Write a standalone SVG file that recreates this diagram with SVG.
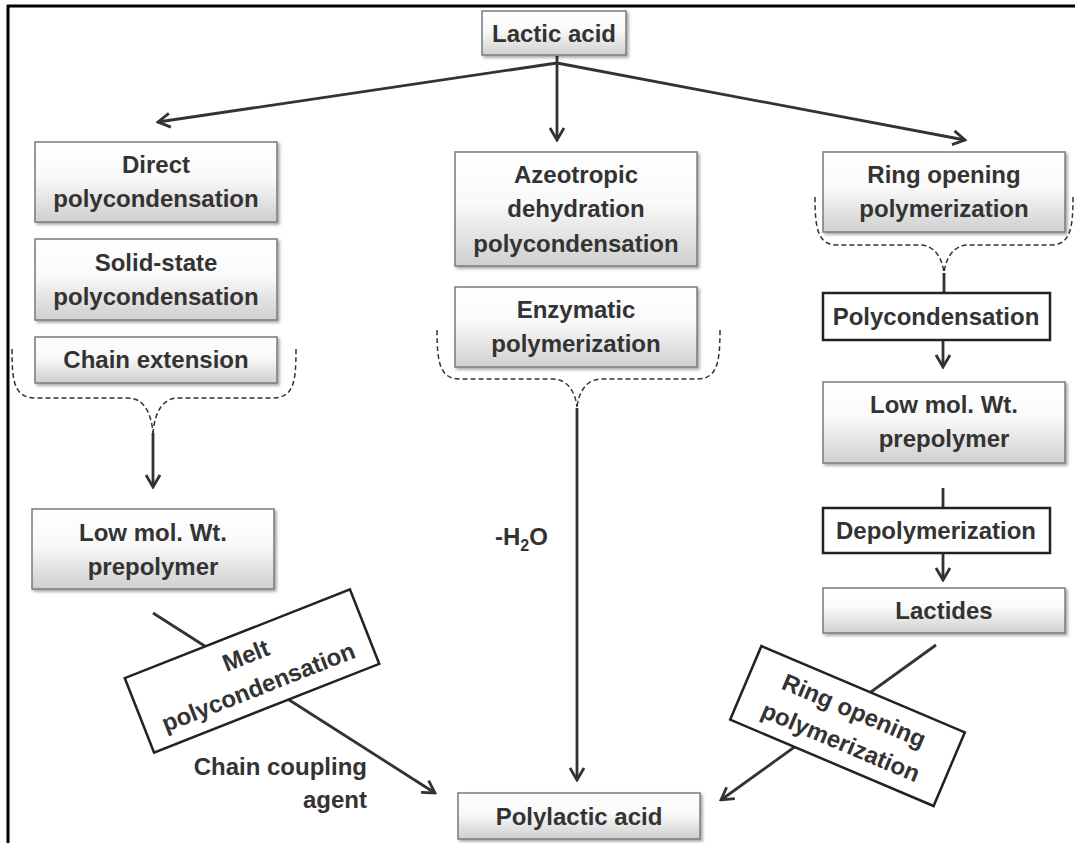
<svg xmlns="http://www.w3.org/2000/svg" width="1075" height="843" viewBox="0 0 1075 843">
<defs>
<linearGradient id="g" x1="0" y1="0" x2="0" y2="1">
<stop offset="0" stop-color="#ffffff"/>
<stop offset="0.45" stop-color="#f9f9f9"/>
<stop offset="1" stop-color="#cfcfcf"/>
</linearGradient>
<filter id="sh" x="-10%" y="-10%" width="130%" height="140%">
<feDropShadow dx="2" dy="2" stdDeviation="1.5" flood-color="#000" flood-opacity="0.35"/>
</filter>
<marker id="ah" viewBox="0 0 18 18" refX="16" refY="9" markerWidth="18" markerHeight="18" markerUnits="userSpaceOnUse" orient="auto">
<path d="M4,2 L16,9 L4,16" fill="none" stroke="#333" stroke-width="2.8" stroke-linejoin="miter"/>
</marker>
<style>
.box{fill:url(#g);stroke:#7a7a7a;stroke-width:1.5;filter:url(#sh)}
.wbox{fill:#fff;stroke:#222;stroke-width:2.5}
.t{font-family:"Liberation Sans",Arial,sans-serif;font-weight:bold;font-size:24px;fill:#333;text-anchor:middle}
.te{font-family:"Liberation Sans",Arial,sans-serif;font-weight:bold;font-size:24px;fill:#333;text-anchor:end}
.ts{font-family:"Liberation Sans",Arial,sans-serif;font-weight:bold;font-size:24px;fill:#333}
.c{stroke:#333;stroke-width:2.8;fill:none}
.ca{stroke:#333;stroke-width:2.8;fill:none;marker-end:url(#ah)}
.d{stroke:#333;stroke-width:1.5;fill:none;stroke-dasharray:5 3}
</style>
</defs>
<rect x="0" y="0" width="1075" height="843" fill="#fff"/>
<g id="frame">
<line x1="7" y1="6" x2="1075" y2="6" stroke="#000" stroke-width="3"/>
<line x1="8" y1="5" x2="8" y2="843" stroke="#000" stroke-width="3"/>
</g>
<g id="connectors">
<line class="ca" x1="557" y1="63" x2="158" y2="122"/>
<line class="ca" x1="557" y1="56" x2="557" y2="140"/>
<line class="ca" x1="557" y1="63" x2="965" y2="140"/>
<path class="d" d="M12,349 C12,382 14,398 36,398 L128,398 C142,398 151,410 153,433"/>
<path class="d" d="M296,349 C296,382 294,398 272,398 L178,398 C164,398 155,410 153,433"/>
<line class="ca" x1="153" y1="433" x2="153" y2="487"/>
<path class="d" d="M437,330 C437,363 440,379 460,379 L553,379 C566,379 575,390 577,407"/>
<path class="d" d="M720,330 C720,363 717,379 697,379 L601,379 C588,379 579,390 577,407"/>
<line class="ca" x1="577" y1="408" x2="577" y2="780"/>
<path class="d" d="M815,197 C815,230 818,245 838,245 L920,245 C933,245 942,256 944,273"/>
<path class="d" d="M1073,197 C1073,230 1070,245 1050,245 L968,245 C955,245 946,256 944,273"/>
<line class="c" x1="944" y1="273" x2="944" y2="293"/>
<line class="ca" x1="943" y1="340" x2="943" y2="367"/>
<line class="c" x1="943" y1="488" x2="943" y2="508"/>
<line class="ca" x1="943" y1="553" x2="943" y2="580"/>
<line class="ca" x1="153" y1="613" x2="435" y2="793"/>
<line class="ca" x1="936" y1="645" x2="721" y2="800"/>
</g>
<g id="lactic-acid">
<rect class="box" x="482" y="11" width="144" height="44"/>
<text class="t" x="554" y="41.5">Lactic acid</text>
</g>
<g id="direct">
<rect class="box" x="35" y="142" width="242" height="80"/>
<text class="t" x="156" y="173">Direct</text>
<text class="t" x="156" y="207">polycondensation</text>
</g>
<g id="solid-state">
<rect class="box" x="35" y="239" width="242" height="81"/>
<text class="t" x="156" y="271">Solid-state</text>
<text class="t" x="156" y="305">polycondensation</text>
</g>
<g id="chain-extension">
<rect class="box" x="35" y="337" width="242" height="46"/>
<text class="t" x="156" y="368">Chain extension</text>
</g>
<g id="lowmol-left">
<rect class="box" x="32" y="509" width="242" height="80"/>
<text class="t" x="153" y="541">Low mol. Wt.</text>
<text class="t" x="153" y="575">prepolymer</text>
</g>
<g id="azeotropic">
<rect class="box" x="455" y="152" width="242" height="114"/>
<text class="t" x="576" y="183">Azeotropic</text>
<text class="t" x="576" y="217">dehydration</text>
<text class="t" x="576" y="252">polycondensation</text>
</g>
<g id="enzymatic">
<rect class="box" x="455" y="287" width="242" height="80"/>
<text class="t" x="576" y="318">Enzymatic</text>
<text class="t" x="576" y="352">polymerization</text>
</g>
<g id="polylactic-acid">
<rect class="box" x="458" y="793" width="242" height="46"/>
<text class="t" x="579" y="825">Polylactic acid</text>
</g>
<g id="ring-opening">
<rect class="box" x="823" y="152" width="242" height="80"/>
<text class="t" x="944" y="183">Ring opening</text>
<text class="t" x="944" y="217">polymerization</text>
</g>
<g id="polycondensation">
<rect class="wbox" x="823" y="293" width="227" height="47"/>
<text class="t" x="936" y="325">Polycondensation</text>
</g>
<g id="lowmol-right">
<rect class="box" x="823" y="382" width="242" height="81"/>
<text class="t" x="944" y="413">Low mol. Wt.</text>
<text class="t" x="944" y="447">prepolymer</text>
</g>
<g id="depolymerization">
<rect class="wbox" x="823" y="508" width="227" height="45"/>
<text class="t" x="936" y="539">Depolymerization</text>
</g>
<g id="lactides">
<rect class="box" x="823" y="588" width="242" height="45"/>
<text class="t" x="944" y="619">Lactides</text>
</g>
<g id="melt-polycondensation" transform="translate(252,671) rotate(-21.5)">
<rect class="wbox" x="-121" y="-40" width="242" height="80" stroke-width="2"/>
<text class="t" x="0" y="-8.5">Melt</text>
<text class="t" x="0" y="25.5">polycondensation</text>
</g>
<g id="ring-opening-2" transform="translate(847.5,726) rotate(23)">
<rect class="wbox" x="-110.5" y="-40" width="221" height="80" stroke-width="2"/>
<text class="t" x="0" y="-8.5">Ring opening</text>
<text class="t" x="0" y="25.5">polymerization</text>
</g>
<g id="labels">
<text class="ts" x="495" y="545">-H<tspan font-size="16" dy="6">2</tspan><tspan dy="-6">O</tspan></text>
<text class="te" x="367" y="775">Chain coupling</text>
<text class="te" x="367" y="808">agent</text>
</g>
</svg>
